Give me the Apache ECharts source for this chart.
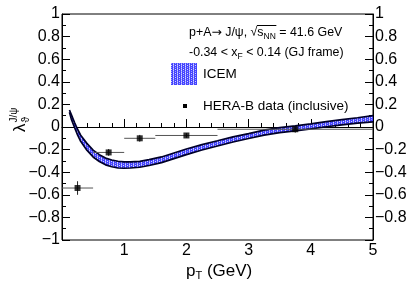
<!DOCTYPE html>
<html><head><meta charset="utf-8">
<script src="https://cdn.jsdelivr.net/npm/echarts@6/dist/echarts.min.js"></script>
<style>html,body{margin:0;padding:0;background:#fff}#c{width:415px;height:284px}</style>
</head><body><div id="c"></div>
<script>
// ICEM band
const bandX     = [0.12, 0.15, 0.2, 0.25, 0.3, 0.4, 0.5, 0.6, 0.7, 0.8, 0.9, 1.0, 1.1, 1.25, 1.4, 1.6, 1.8, 2.0, 2.25, 2.5, 2.75, 3.0, 3.25, 3.5, 3.75, 4.0, 4.25, 4.5, 4.75, 5.0];
const bandUpper = [0.15, 0.11, 0.042, -0.02, -0.073, -0.145, -0.205, -0.245, -0.275, -0.292, -0.303, -0.309, -0.309, -0.304, -0.289, -0.265, -0.23, -0.195, -0.156, -0.122, -0.087, -0.058, -0.028, -0.005, 0.01, 0.027, 0.048, 0.065, 0.082, 0.10];
const bandLower = [0.13, 0.07, -0.002, -0.07, -0.127, -0.205, -0.265, -0.305, -0.335, -0.352, -0.363, -0.365, -0.363, -0.356, -0.341, -0.315, -0.28, -0.245, -0.204, -0.168, -0.133, -0.102, -0.072, -0.049, -0.034, -0.017, 0.002, 0.019, 0.034, 0.046];
// HERA-B data
const dataX     = [0.25, 0.75, 1.25, 2.0, 3.75];
const dataY     = [-0.54, -0.225, -0.10, -0.075, -0.02];
const dataXLow  = [0.0, 0.5, 1.0, 1.5, 2.5];
const dataXHigh = [0.5, 1.0, 1.5, 2.5, 5.0];
const dataYErr  = [0.06, 0.03, 0.03, 0.02, 0.03];
// tick labels
const xTickValues = [0, 1, 2, 3, 4, 5];
const xTickLabels = ['', '1', '2', '3', '4', '5'];
const yTickValues = [-1, -0.8, -0.6, -0.4, -0.2, 0, 0.2, 0.4, 0.6, 0.8, 1];
const yTickLabels = ['\u22121', '\u22120.8', '\u22120.6', '\u22120.4', '\u22120.2', '0', '0.2', '0.4', '0.6', '0.8', '1'];

const FONT = 'Liberation Sans';
function lookup(vals, labs, v) {
  for (let i = 0; i < vals.length; i++) if (Math.abs(vals[i] - v) < 1e-6) return labs[i];
  return '';
}
const mctx = document.createElement('canvas').getContext('2d');
function tw(t, size, fam) { mctx.font = size + 'px "' + (fam || FONT) + '"'; return mctx.measureText(t).width; }
function inline(x, y, parts) {
  const els = []; let cx = x; const pos = [];
  parts.forEach(p => {
    pos.push(cx);
    els.push({ type: 'text', x: cx, y: y + (p[2] || 0), z: 10,
      style: { text: p[0], fontSize: p[1], fontFamily: p[3] || FONT, fill: '#000', align: 'left', verticalAlign: 'middle' } });
    cx += tw(p[0], p[1], p[3]);
  });
  pos.push(cx);
  return { els, pos };
}

// fill pattern for band
const pc = document.createElement('canvas'); pc.width = 4; pc.height = 4;
const px = pc.getContext('2d');
px.fillStyle = '#4444ff'; px.fillRect(0, 0, 4, 4);
px.fillStyle = '#d4d4ff'; px.fillRect(1, 0, 1, 1); px.fillRect(1, 2, 1, 1); px.fillRect(3, 1, 1, 1);
px.fillStyle = '#9a9aff'; px.fillRect(3, 3, 1, 1); px.fillRect(1, 1, 1, 1); px.fillRect(1, 3, 1, 1);
const bandFill = { image: pc, repeat: 'repeat' };

const chart = echarts.init(document.getElementById('c'), null, { renderer: 'canvas' });

const TS = 12.4;
const l1 = inline(189, 33, [['p+A', TS, 0], ['\u2192', TS, 0, 'DejaVu Sans'], [' J/\u03c8, \u221a', TS, 0], ['s', TS, 0], ['NN', 8.5, 4], [' = 41.6 GeV', TS, 0]]);
const l2 = inline(189, 53, [['-0.34 < x', TS, 0], ['F', 8.5, 4], [' < 0.14 (GJ frame)', TS, 0]]);
const xt = inline(186, 271, [['p', 17, 0], ['T', 11, 5], [' (GeV)', 17, 0]]);
const lamW = tw('\u03bb', 17);

const graphics = [].concat(l1.els, l2.els, xt.els, [
  { type: 'line', z: 10, shape: { x1: l1.pos[3] - 0.5, y1: 25.5, x2: l1.pos[5] + 0.5, y2: 25.5 }, style: { stroke: '#000', lineWidth: 1 } },
  { type: 'rect', z: 10, shape: { x: 171, y: 63, width: 26, height: 22 }, style: { fill: bandFill } },
  { type: 'text', z: 10, x: 203, y: 74, style: { text: 'ICEM', fontSize: 13.5, fontFamily: FONT, fill: '#000', verticalAlign: 'middle' } },
  { type: 'rect', z: 10, shape: { x: 183, y: 104, width: 4, height: 4 }, style: { fill: '#000' } },
  { type: 'text', z: 10, x: 203, y: 106, style: { text: 'HERA-B data (inclusive)', fontSize: 13.5, fontFamily: FONT, fill: '#000', verticalAlign: 'middle' } },
  { type: 'group', x: 20, y: 132, rotation: Math.PI / 2, z: 10, children: [
    { type: 'text', x: 0, y: 0, style: { text: '\u03bb', fontSize: 17, fontFamily: FONT, fill: '#000', verticalAlign: 'middle' } },
    { type: 'text', x: lamW + 1, y: -6, style: { text: 'J/\u03c8', fontSize: 10, fontFamily: FONT, fill: '#000', verticalAlign: 'middle' } },
    { type: 'text', x: lamW + 1, y: 6, style: { text: '\u03d1', fontSize: 10, fontFamily: FONT, fill: '#000', verticalAlign: 'middle' } }
  ] }
]);

const yAxisCommon = {
  type: 'value', min: -1, max: 1, interval: 0.2,
  axisLine: { show: true, lineStyle: { color: '#000', width: 1 } },
  axisTick: { show: true, inside: true, length: 8, lineStyle: { color: '#000' } },
  minorTick: { show: true, splitNumber: 2, length: 4, lineStyle: { color: '#000' } },
  splitLine: { show: false },
  axisLabel: { fontSize: 16, fontFamily: FONT, color: '#000', margin: 2 }
};

chart.setOption({
  animation: false,
  grid: { left: 62, right: 42, top: 14, bottom: 44, show: true, borderColor: '#000', borderWidth: 1, backgroundColor: 'transparent' },
  xAxis: {
    type: 'value', min: 0, max: 5, interval: 1,
    axisLine: { lineStyle: { color: '#000', width: 1 } },
    axisTick: { inside: true, length: 8, lineStyle: { color: '#000' } },
    minorTick: { show: true, splitNumber: 5, length: 4, lineStyle: { color: '#000' } },
    splitLine: { show: false },
    axisLabel: { fontSize: 16, fontFamily: FONT, color: '#000', margin: 3, showMinLabel: true, showMaxLabel: true,
      formatter: v => lookup(xTickValues, xTickLabels, v) }
  },
  yAxis: [
    Object.assign({}, yAxisCommon, { position: 'left',
      axisLabel: Object.assign({}, yAxisCommon.axisLabel, { showMinLabel: true, showMaxLabel: true, formatter: v => lookup(yTickValues, yTickLabels, v) }) }),
    Object.assign({}, yAxisCommon, { position: 'right',
      axisLabel: Object.assign({}, yAxisCommon.axisLabel, { showMinLabel: false, showMaxLabel: true, formatter: v => v <= -0.999 ? '' : lookup(yTickValues, yTickLabels, v) }) })
  ],
  graphic: graphics,
  series: [
    {
      type: 'custom', z: 1, clip: true,
      data: [[bandX[0], bandUpper[0]]],
      renderItem: function (params, api) {
        const pts = [];
        for (let i = 0; i < bandX.length; i++) pts.push(api.coord([bandX[i], bandUpper[i]]));
        for (let i = bandX.length - 1; i >= 0; i--) pts.push(api.coord([bandX[i], bandLower[i]]));
        return { type: 'polygon', shape: { points: pts }, style: { fill: bandFill, stroke: null } };
      }
    },
    { type: 'line', z: 2, symbol: 'none', data: bandX.map((x, i) => [x, bandUpper[i]]), lineStyle: { color: '#00002a', width: 1.7 } },
    { type: 'line', z: 2, symbol: 'none', data: bandX.map((x, i) => [x, bandLower[i]]), lineStyle: { color: '#00002a', width: 1.7 } },
    {
      type: 'custom', z: 3, clip: true,
      data: dataX.map((x, i) => [x, dataY[i], dataXLow[i], dataXHigh[i], dataYErr[i]]),
      renderItem: function (params, api) {
        const x = api.value(0), y = api.value(1), xl = api.value(2), xh = api.value(3), e = api.value(4);
        const a = api.coord([xl, y]), b = api.coord([xh, y]);
        const c = api.coord([x, y - e]), d = api.coord([x, y + e]);
        return { type: 'group', children: [
          { type: 'line', shape: { x1: a[0], y1: a[1], x2: b[0], y2: b[1] }, style: { stroke: '#555', lineWidth: 1 } },
          { type: 'line', shape: { x1: c[0], y1: c[1], x2: d[0], y2: d[1] }, style: { stroke: '#222', lineWidth: 1 } }
        ] };
      }
    },
    { type: 'scatter', z: 4, symbol: 'rect', symbolSize: 6, itemStyle: { color: '#000' },
      data: dataX.map((x, i) => [x, dataY[i]]) }
  ]
});
</script></body></html>
